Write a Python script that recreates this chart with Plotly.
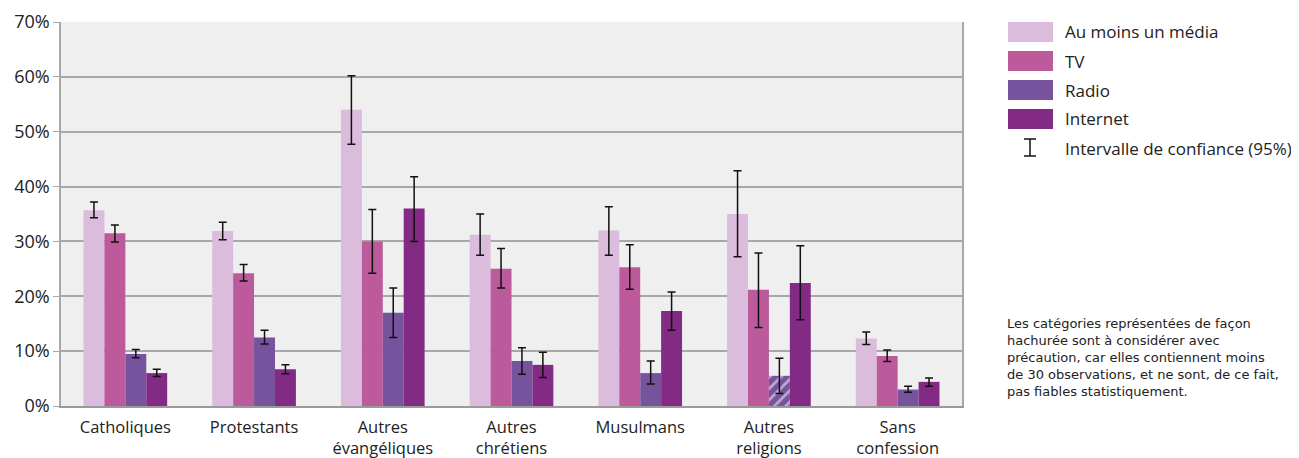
import plotly.graph_objects as go

categories = ["Catholiques", "Protestants", "Autres<br>évangéliques", "Autres<br>chrétiens",
              "Musulmans", "Autres<br>religions", "Sans<br>confession"]
series_names = ["Au moins un média", "TV", "Radio", "Internet"]
colors = ["#dcbcdc", "#bc5a9c", "#76539c", "#832a84"]

amm = [35.7, 31.9, 54.0, 31.2, 32.0, 35.0, 12.3]
amm_lo = [34.3, 30.3, 47.7, 27.5, 27.5, 27.2, 11.2]
amm_hi = [37.2, 33.5, 60.2, 35.0, 36.3, 42.9, 13.5]

tv = [31.5, 24.2, 30.0, 25.0, 25.3, 21.2, 9.1]
tv_lo = [29.9, 22.8, 24.2, 21.5, 21.3, 14.3, 8.1]
tv_hi = [33.0, 25.8, 35.8, 28.7, 29.4, 27.9, 10.2]

radio = [9.5, 12.5, 17.0, 8.2, 6.0, 5.5, 3.0]
radio_lo = [8.8, 11.3, 12.5, 5.8, 4.0, 2.3, 2.5]
radio_hi = [10.3, 13.8, 21.5, 10.6, 8.2, 8.7, 3.6]

internet = [6.0, 6.7, 36.0, 7.5, 17.3, 22.4, 4.4]
internet_lo = [5.4, 5.9, 30.0, 5.2, 13.8, 15.7, 3.6]
internet_hi = [6.7, 7.5, 41.8, 9.8, 20.8, 29.2, 5.1]

radio_hatched = [False, False, False, False, False, True, False]

y_ticks = [0, 10, 20, 30, 40, 50, 60, 70]
y_ticklabels = [f"{v}%" for v in y_ticks]

note = ("Les catégories représentées de façon<br>hachurée sont à considérer avec<br>"
        "précaution, car elles contiennent moins<br>de 30 observations, et ne sont, de ce fait,<br>"
        "pas fiables statistiquement.")

FONT = "Open Sans, DejaVu Sans, sans-serif"

# plot area in page pixels (page has an 8px body margin)
PX0, PX1, PY0, PY1 = 61, 962, 22, 406
PW, PH = PX1 - PX0, PY1 - PY0


def px(x):
    return (x - PX0) / PW


def py(y):
    return (PY1 - y) / PH


fig = go.Figure()
data = [(amm, amm_lo, amm_hi), (tv, tv_lo, tv_hi), (radio, radio_lo, radio_hi),
        (internet, internet_lo, internet_hi)]
for i, (vals, lo, hi) in enumerate(data):
    marker = dict(color=colors[i], line=dict(width=0))
    if i == 2:
        marker["pattern"] = dict(shape=["/" if h else "" for h in radio_hatched],
                                 fgcolor="white", bgcolor=colors[i], size=8, solidity=0.35)
    fig.add_trace(go.Bar(
        x=categories, y=vals, name=series_names[i], marker=marker,
        error_y=dict(type="data", symmetric=False,
                     array=[h - v for h, v in zip(hi, vals)],
                     arrayminus=[v - l for v, l in zip(vals, lo)],
                     color="#111111", thickness=1.5, width=4),
        showlegend=False,
    ))

fig.update_layout(
    width=1299, height=458,
    margin=dict(l=PX0 - 8, r=1299 + 8 - PX1, t=PY0 - 8, b=458 + 8 - PY1),
    paper_bgcolor="white", plot_bgcolor="#efefef",
    barmode="group", bargap=0.35, bargroupgap=0,
    font=dict(family=FONT, size=15, color="#222222"),
    showlegend=False,
)
fig.update_xaxes(showgrid=False, showline=True, linecolor="#9a9a9a", linewidth=2,
                 mirror=False, ticks="", tickfont=dict(size=16.5), automargin=False,
                 ticklabelstandoff=5)
fig.update_yaxes(range=[0, 70], tickvals=y_ticks, ticktext=y_ticklabels,
                 showgrid=True, gridcolor="#a8a8a8", gridwidth=1.5,
                 showline=True, linecolor="#a8a8a8", linewidth=1.5, mirror=True,
                 ticks="outside", ticklen=6, tickcolor="#a8a8a8",
                 zeroline=False, tickfont=dict(size=18), automargin=False)

# Custom legend
leg_y = [32, 61, 90, 119]
shapes = []
annotations = []
for i, name in enumerate(series_names):
    shapes.append(dict(type="rect", xref="paper", yref="paper",
                       x0=px(1008), x1=px(1053),
                       y0=py(leg_y[i] + 10), y1=py(leg_y[i] - 10),
                       fillcolor=colors[i], line=dict(width=0)))
    annotations.append(dict(xref="paper", yref="paper", x=px(1063),
                            y=py(leg_y[i]), text=name, showarrow=False,
                            xanchor="left", yanchor="middle", font=dict(size=17)))
for yy in [139, 156]:
    shapes.append(dict(type="line", xref="paper", yref="paper", x0=px(1024), x1=px(1036),
                       y0=py(yy), y1=py(yy), line=dict(color="#111111", width=1.5)))
shapes.append(dict(type="line", xref="paper", yref="paper", x0=px(1030), x1=px(1030),
                   y0=py(139), y1=py(156), line=dict(color="#111111", width=1.5)))
annotations.append(dict(xref="paper", yref="paper", x=px(1063),
                        y=py(148), text="Intervalle de confiance (95%)",
                        showarrow=False, xanchor="left", yanchor="middle", font=dict(size=17)))
annotations.append(dict(xref="paper", yref="paper", x=px(1005),
                        y=py(314), text=note, showarrow=False, align="left",
                        xanchor="left", yanchor="top",
                        font=dict(size=13, family="DejaVu Sans, sans-serif")))
fig.update_layout(shapes=shapes, annotations=annotations)

fig.write_html("out.html")
